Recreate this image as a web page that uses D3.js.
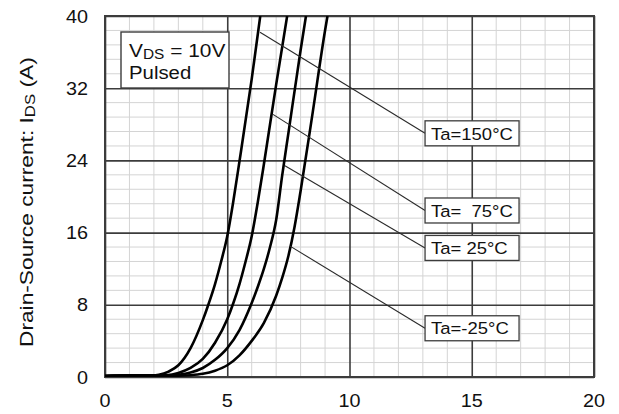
<!DOCTYPE html>
<html>
<head>
<meta charset="utf-8">
<script src="https://cdn.jsdelivr.net/npm/d3@7"></script>
<style>
  html, body { margin: 0; padding: 0; background: #fff; }
  svg { display: block; }
  text { font-family: Arial, "Liberation Sans", Helvetica, sans-serif; fill: #111; }
</style>
</head>
<body>
<svg id="chart" width="619" height="414"></svg>
<script>
// Gate voltage V_GS (V) sample points and drain current I_DS (A) per ambient temperature
const seriesNames = ["Ta=150°C", "Ta=  75°C", "Ta= 25°C", "Ta=-25°C"];

const vgs150 = [0, 1, 1.8, 2.2, 2.6, 3.0, 3.5, 4.0, 4.25, 4.5, 4.75, 5.0, 5.25, 5.5, 6.0, 6.35];
const ids150 = [0.1, 0.15, 0.15, 0.25, 0.6, 1.3, 3.2, 6.3, 8.2, 10.3, 12.8, 15.6, 19.5, 23.9, 33.0, 40];

const vgs75 = [0, 1, 2, 2.5, 3, 3.5, 4, 4.5, 5, 5.25, 5.5, 5.75, 6, 6.25, 6.5, 7, 7.45];
const ids75 = [0.1, 0.15, 0.15, 0.2, 0.45, 1.0, 2.0, 3.8, 6.4, 8.2, 10.3, 12.8, 15.6, 19.4, 23.6, 32.4, 40];

const vgs25 = [0, 1, 2, 2.5, 3, 3.5, 4, 4.5, 5, 5.5, 6, 6.25, 6.5, 6.75, 7, 7.25, 7.5, 8, 8.22];
const ids25 = [0.1, 0.15, 0.15, 0.15, 0.25, 0.5, 1.0, 1.9, 3.2, 5.2, 8.2, 10.0, 12.0, 14.4, 17.4, 22.4, 27.0, 36.2, 40];

const vgsM25 = [0, 1, 2, 3, 3.5, 4, 4.5, 5, 5.5, 6, 6.5, 7, 7.25, 7.5, 7.75, 8, 8.5, 9, 9.1];
const idsM25 = [0.1, 0.15, 0.15, 0.15, 0.2, 0.35, 0.7, 1.3, 2.4, 4.0, 6.0, 9.0, 11.0, 13.4, 16.6, 20.6, 29.4, 38.4, 40];

const xTickValues = [0, 5, 10, 15, 20];
const yTickValues = [0, 8, 16, 24, 32, 40];

// Leader lines: point near the curve -> label box (data units)
const leaderStart = [[6.34, 38.2], [6.87, 29.1], [7.36, 23.4], [7.57, 14.5]];
const labelBoxY = [27.0, 18.45, 14.3, 5.4];
const labelBoxX = 13.09;

const series = [
  { name: seriesNames[0], vgs: vgs150, ids: ids150 },
  { name: seriesNames[1], vgs: vgs75, ids: ids75 },
  { name: seriesNames[2], vgs: vgs25, ids: ids25 },
  { name: seriesNames[3], vgs: vgsM25, ids: idsM25 }
];

const svg = d3.select("#chart");
const plotL = 105, plotR = 594, plotT = 16, plotB = 377;
const x = d3.scaleLinear().domain([0, 20]).range([plotL, plotR]);
const y = d3.scaleLinear().domain([0, 40]).range([plotB, plotT]);
const SX = 1.1; // horizontal stretch of the lettering

function hText(g, px, py, str, size, anchor) {
  return g.append("text")
    .attr("transform", `translate(${px},${py}) scale(${SX},1)`)
    .attr("font-size", size)
    .attr("text-anchor", anchor || "start")
    .style("white-space", "pre")
    .text(str);
}

// Minor grid
const grid = svg.append("g");
grid.selectAll("line.mx").data(d3.range(1, 20).filter(v => v % 5 !== 0)).join("line")
  .attr("x1", d => x(d)).attr("x2", d => x(d)).attr("y1", plotT).attr("y2", plotB)
  .attr("stroke", "#d4d4d4").attr("stroke-width", 1);
grid.selectAll("line.my").data(d3.range(1, 25).filter(i => i % 5 !== 0).map(i => i * 1.6)).join("line")
  .attr("x1", plotL).attr("x2", plotR).attr("y1", d => y(d)).attr("y2", d => y(d))
  .attr("stroke", "#d4d4d4").attr("stroke-width", 1);

// Major grid via axes
const xAxisGrid = d3.axisBottom(x).tickValues(xTickValues).tickSize(-(plotB - plotT)).tickFormat("");
const yAxisGrid = d3.axisLeft(y).tickValues(yTickValues).tickSize(-(plotR - plotL)).tickFormat("");
svg.append("g").attr("transform", `translate(0,${plotB})`).call(xAxisGrid)
  .call(g => g.select(".domain").remove())
  .call(g => g.selectAll("line").attr("stroke", "#3c3c3c").attr("stroke-width", 1.6));
svg.append("g").attr("transform", `translate(${plotL},0)`).call(yAxisGrid)
  .call(g => g.select(".domain").remove())
  .call(g => g.selectAll("line").attr("stroke", "#3c3c3c").attr("stroke-width", 1.6));

// Frame
svg.append("rect").attr("x", plotL).attr("y", plotT).attr("width", plotR - plotL).attr("height", plotB - plotT)
  .attr("fill", "none").attr("stroke", "#3c3c3c").attr("stroke-width", 2);

// Tick labels
const labelsG = svg.append("g");
xTickValues.forEach(v => hText(labelsG, x(v), 406.5, String(v), 18, "middle"));
yTickValues.forEach(v => hText(labelsG, 88, y(v) + 6.5, String(v), 18, "end"));

// Y axis title
const yTitle = svg.append("text")
  .attr("font-size", 19)
  .attr("text-anchor", "start");
yTitle.append("tspan").text("Drain-Source current: I");
yTitle.append("tspan").attr("font-size", 14).attr("dy", 2).text("DS");
yTitle.append("tspan").attr("dy", -2).text(" (A)");
const titleLen = yTitle.node().getComputedTextLength();
const targetLen = 290;
yTitle.attr("transform", `translate(32.5,347) rotate(-90) scale(${targetLen / titleLen},1)`);

// Curves
const clip = svg.append("clipPath").attr("id", "plotClip");
clip.append("rect").attr("x", plotL).attr("y", plotT).attr("width", plotR - plotL).attr("height", plotB - plotT);
const line = d3.line().x(d => x(d[0])).y(d => y(d[1])).curve(d3.curveMonotoneX);
svg.append("g").attr("clip-path", "url(#plotClip)")
  .selectAll("path").data(series).join("path")
  .attr("d", s => line(s.vgs.map((v, i) => [v, s.ids[i]])))
  .attr("fill", "none").attr("stroke", "#000").attr("stroke-width", 2.6)
  .attr("stroke-linejoin", "round");

// Condition box
const condG = svg.append("g");
condG.append("rect").attr("x", 121).attr("y", 32).attr("width", 108).attr("height", 56)
  .attr("fill", "#fff").attr("stroke", "#3c3c3c").attr("stroke-width", 1.4);
const cond = condG.append("text")
  .attr("transform", `translate(129,56.5) scale(${SX},1)`)
  .attr("font-size", 19);
cond.append("tspan").text("V");
cond.append("tspan").attr("font-size", 14).attr("dy", 2).text("DS");
cond.append("tspan").attr("dy", -2).text(" = 10V");
hText(condG, 129, 78.5, "Pulsed", 18.5, "start");

// Temperature labels with leader lines
const boxW = 94, boxH = 25;
series.forEach((s, i) => {
  const bx = x(labelBoxX), by = y(labelBoxY[i]);
  svg.append("line")
    .attr("x1", x(leaderStart[i][0])).attr("y1", y(leaderStart[i][1]))
    .attr("x2", bx).attr("y2", by)
    .attr("stroke", "#2a2a2a").attr("stroke-width", 1.1);
  svg.append("rect").attr("x", bx).attr("y", by - boxH / 2).attr("width", boxW).attr("height", boxH)
    .attr("fill", "#fff").attr("stroke", "#3c3c3c").attr("stroke-width", 1.3);
  hText(svg, bx + 6, by + 6.2, s.name, 16.8, "start");
});
</script>
</body>
</html>
